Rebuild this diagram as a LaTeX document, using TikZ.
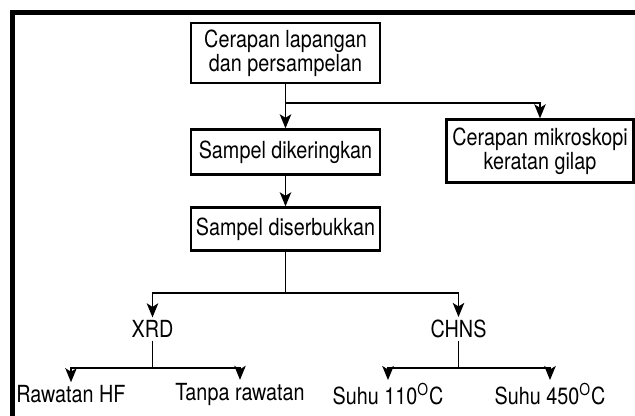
\documentclass[tikz,border=0pt]{standalone}
\usepackage{fontspec}
\setmainfont{TeX Gyre Heros}[FakeStretch=0.84]
\usepackage{tikz}
\usetikzlibrary{arrows.meta}

\begin{document}
\begin{tikzpicture}[
    frame/.style={line width=2.5pt},
    box/.style={draw,line width=1.3pt,minimum width=3.78cm,inner sep=2pt,align=center,font=\fontsize{13.4}{13.4}\selectfont},
    result/.style={inner sep=1.5pt,font=\fontsize{13.4}{13.4}\selectfont},
    link/.style={line width=1.1pt},
    arr/.style={link,-{Stealth[length=8pt,width=6.5pt,inset=2pt]}}
]
\useasboundingbox (0,0) rectangle (12.7,-8.3);
\draw[frame] (0.25,-8.6) -- (0.25,-0.25) -- (13,-0.25);

\node[box,minimum height=1.2cm] (lapangan) at (5.71,-1.06) {Cerapan lapangan\\dan persampelan};
\node[box,minimum height=0.9cm] (kering) at (5.71,-3.04) {Sampel dikeringkan};
\node[box,minimum width=3.74cm,minimum height=1.26cm] (mikro) at (10.8,-3.02) {Cerapan mikroskopi\\keratan gilap};
\node[box,minimum height=0.86cm] (serbuk) at (5.71,-4.58) {Sampel diserbukkan};

\node[result] (xrd) at (3.05,-6.58) {XRD};
\node[result] (chns) at (9.17,-6.58) {CHNS};
\node[result] (hf) at (1.42,-7.88) {Rawatan HF};
\node[result] (tanpa) at (4.8,-7.88) {Tanpa rawatan};
\node[result] (suhu110) at (7.76,-7.88) {Suhu 110\textsuperscript{O}C};
\node[result] (suhu450) at (11.0,-7.88) {Suhu 450\textsuperscript{O}C};

\coordinate (split) at (5.71,-2.06);
\coordinate (hub) at (5.71,-5.86);
\coordinate (xsplit) at (3.05,-7.36);
\coordinate (csplit) at (9.17,-7.36);

\draw[arr] (lapangan) -- (kering);
\draw[arr] (split) -| (mikro);
\draw[arr] (kering) -- (serbuk);
\draw[link] (serbuk) -- (hub);
\draw[arr] (hub) -| (xrd);
\draw[arr] (hub) -| (chns);
\draw[link] (xrd) -- (xsplit);
\draw[arr] (xsplit) -| (hf);
\draw[arr] (xsplit) -| (tanpa);
\draw[link] (chns) -- (csplit);
\draw[arr] (csplit) -| (suhu110);
\draw[arr] (csplit) -| (suhu450);
\end{tikzpicture}
\end{document}
